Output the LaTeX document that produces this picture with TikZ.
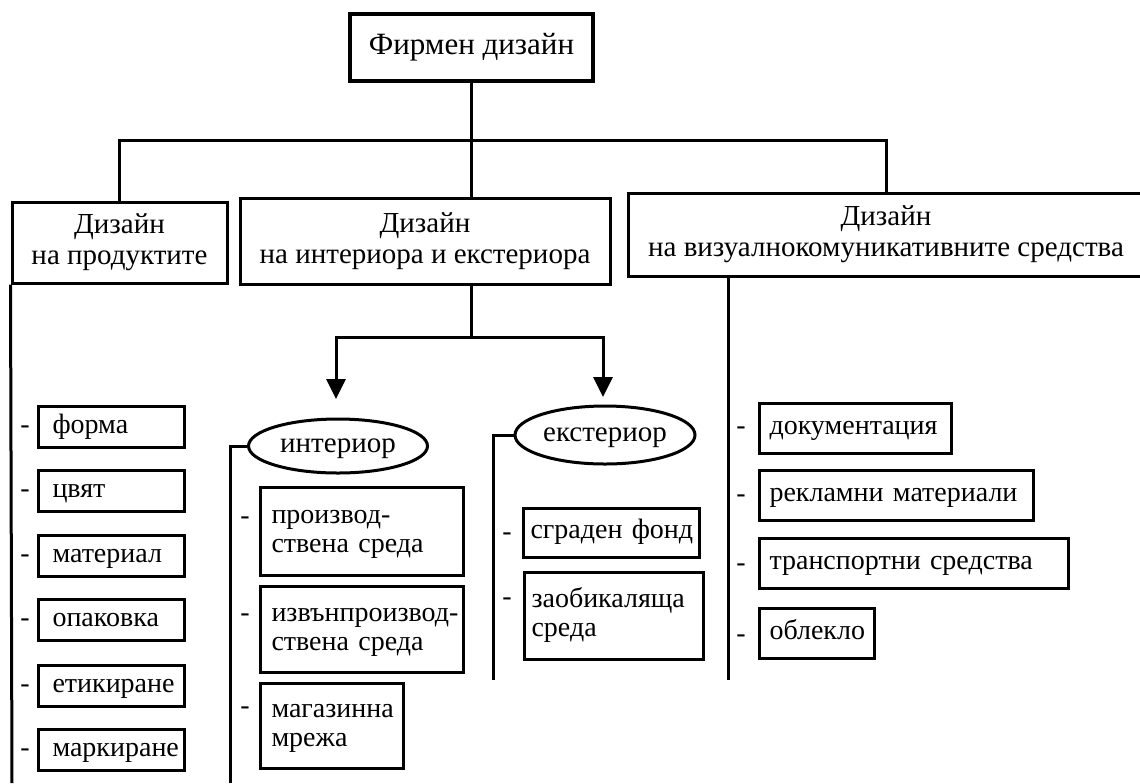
\documentclass[tikz,border=0pt]{standalone}
\usepackage{fontspec}
\setmainfont{Liberation Serif}
\usetikzlibrary{shapes.geometric,arrows.meta}
\tikzset{
  topbox/.style={draw, line width=1.8pt, inner sep=0pt, align=center, font=\fontsize{15.5}{18}\selectfont},
  headbox/.style={draw, inner sep=0pt, align=center, font=\fontsize{14.5}{15.5}\selectfont},
  oval/.style={draw, ellipse, inner sep=0pt, text height=9pt, text depth=3pt, font=\fontsize{14.5}{16}\selectfont},
  itembox/.style={draw, anchor=west, inner ysep=0pt, align=left, font=\fontsize{14}{14.5}\selectfont},
  oneline/.style={itembox, text height=9pt, text depth=3pt},
  twoline/.style={itembox, text height=9.5pt},
  leftitem/.style={oneline, inner xsep=7pt, text width=59pt, minimum height=20.5pt},
  visitem/.style={oneline, inner xsep=5pt, minimum height=25pt},
  dashmark/.style={inner sep=0pt, font=\fontsize{14}{15}\selectfont},
  arr/.style={-{Triangle[width=9.5pt,length=10pt]}},
}
\begin{document}
\begin{tikzpicture}[x=0.5pt, y=-0.5pt, line width=1.5pt]
\useasboundingbox (0,0) rectangle (1140,783);

% top level
\node[topbox, minimum width=121.5pt, minimum height=33.5pt] (top) at (471.5,47.5) {Фирмен дизайн};
\node[headbox, minimum width=107.5pt, minimum height=40.5pt] (b1) at (119.5,242.5) {Дизайн\\на продуктите};
\node[headbox, minimum width=185pt, minimum height=43pt] (b2) at (425,241) {Дизайн\\на интериора и екстериора};
\node[headbox, minimum width=258pt, minimum height=41.5pt] (b3) at (886,234.5) {Дизайн\\на визуалнокомуникативните средства};

\coordinate (barY) at (0,140);
\draw (top.south) -- (top.south |- b2.north);
\draw (b1.north) |- (top.south |- barY) -| (b3.north);

% interior / exterior split
\coordinate (splitY) at (0,337);
\coordinate (tipI) at (336,399);
\coordinate (tipE) at (603,397);
\draw (b2.south -| top.south) -- (top.south |- splitY);
\draw[arr] (top.south |- splitY) -| (tipI);
\draw[arr] (top.south |- splitY) -| (tipE);

\node[oval, minimum width=89.5pt, minimum height=27pt] (int) at (338,446) {интериор};
\node[oval, minimum width=90pt, minimum height=29pt] (ext) at (605,435) {екстериор};

% vertical rails
\coordinate (leftEnd) at (12,783);
\coordinate (intEnd) at (230,783);
\coordinate (extEnd) at (493,680);
\coordinate (visEnd) at (728,680);
\draw (b1.south west) -- (leftEnd);
\draw (int.west) -| (intEnd);
\draw (ext.west) -| (extEnd);
\draw (b3.south -| visEnd) -- (visEnd);

% products column
\node[leftitem] (p1) at (37,427) {\mbox{форма}};
\node[leftitem] (p2) at (37,491) {\mbox{цвят}};
\node[leftitem] (p3) at (37,556) {\mbox{материал}};
\node[leftitem] (p4) at (37,620) {\mbox{опаковка}};
\node[leftitem] (p5) at (37,686) {\mbox{етикиране}};
\node[leftitem] (p6) at (37,750) {\mbox{маркиране}};
\node[dashmark] (dp1) at (25,430) {-};
\node[dashmark] (dp2) at (25,494) {-};
\node[dashmark] (dp3) at (25,559) {-};
\node[dashmark] (dp4) at (25,623) {-};
\node[dashmark] (dp5) at (25,689) {-};
\node[dashmark] (dp6) at (25,753) {-};

% interior column
\node[twoline, inner xsep=5.5pt, text width=90.5pt, minimum height=44pt] (i1) at (259,531) {\mbox{производ-}\\\mbox{ствена среда}};
\node[twoline, inner xsep=5.5pt, text width=90.5pt, minimum height=43pt] (i2) at (259,629) {\mbox{извънпроизвод-}\\\mbox{ствена среда}};
\node[twoline, inner xsep=5.5pt, text width=60.5pt, minimum height=42.5pt] (i3) at (259,725.5) {\mbox{магазинна}\\\mbox{мрежа}};
\node[dashmark] (di1) at (245,521) {-};
\node[dashmark] (di2) at (245,618) {-};
\node[dashmark] (di3) at (245,711) {-};

% exterior column
\node[oneline, inner xsep=3.5pt, text width=81pt, minimum height=24.5pt] (e1) at (522,532.5) {\mbox{сграден фонд}};
\node[twoline, inner xsep=3.5pt, text width=82.5pt, minimum height=43.5pt] (e2) at (523,615.5) {\mbox{заобикаляща}\\\mbox{среда}};
\node[dashmark] (de1) at (507,537) {-};
\node[dashmark] (de2) at (507,602) {-};

% visual communication column
\node[visitem, text width=86pt] (v1) at (758,428) {\mbox{документация}};
\node[visitem, text width=127pt] (v2) at (758,495) {\mbox{рекламни материали}};
\node[visitem, text width=144.5pt] (v3) at (758,563) {\mbox{транспортни средства}};
\node[visitem, text width=47.5pt] (v4) at (758,633) {\mbox{облекло}};
\node[dashmark] (dv1) at (741,431) {-};
\node[dashmark] (dv2) at (741,499) {-};
\node[dashmark] (dv3) at (741,568) {-};
\node[dashmark] (dv4) at (741,639) {-};
\end{tikzpicture}
\end{document}
